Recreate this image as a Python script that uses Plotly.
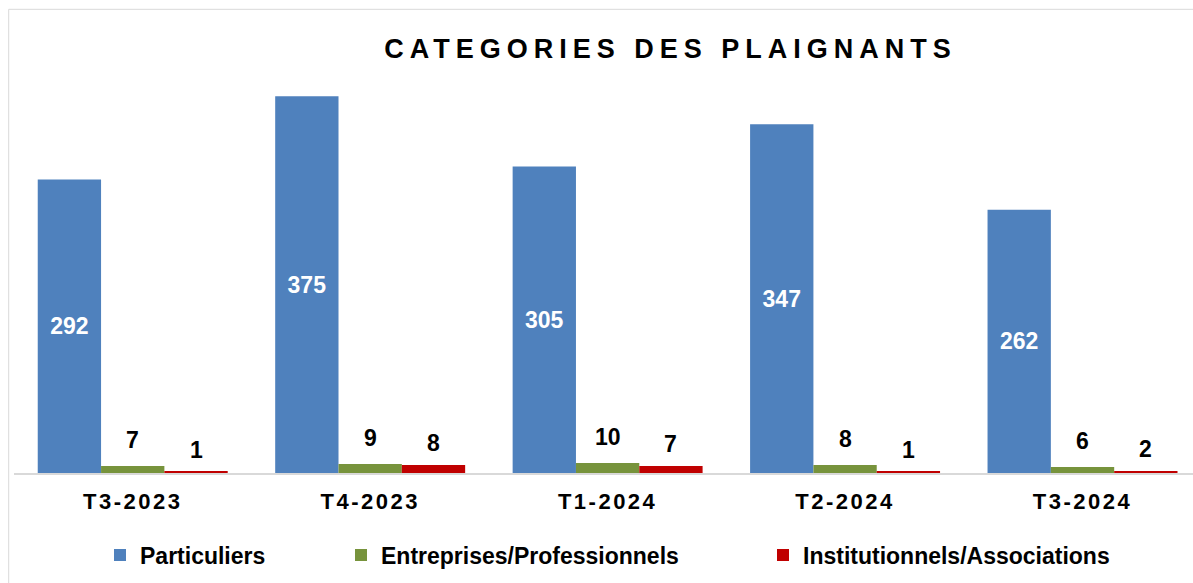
import plotly.graph_objects as go

categories = ["T3-2023", "T4-2023", "T1-2024", "T2-2024", "T3-2024"]
particuliers = [292, 375, 305, 347, 262]
entreprises = [7, 9, 10, 8, 6]
institutionnels = [1, 8, 7, 1, 2]
series_names = ["Particuliers", "Entreprises/Professionnels", "Institutionnels/Associations"]
title_text = "CATEGORIES DES PLAIGNANTS"

FONT = "Arial, Liberation Sans, sans-serif"
BLUE, GREEN, RED = "#4f81bd", "#77933c", "#c00000"

W, H = 1193, 583
ML, MT, MB = 14, 71, 110
plot_w = W - ML
cat_px = 237.45
bargap = 0.2
bar_w = (1 - bargap) / 3

def px_x(px):
    return (px - ML) / plot_w

plot_h = H - MT - MB
def px_y(py):
    return (H - MB - py) / plot_h

fig = go.Figure()
fig.add_trace(go.Bar(
    x=categories, y=particuliers, name=series_names[0], marker=dict(color=BLUE, line=dict(width=0)),
    text=particuliers, textposition="inside", insidetextanchor="middle", textangle=0,
    constraintext="none",
    textfont=dict(family=FONT, size=23, color="white", weight="bold"),
    legend="legend",
))
fig.add_trace(go.Bar(
    x=categories, y=entreprises, name=series_names[1], marker=dict(color=GREEN, line=dict(width=0)),
    legend="legend2",
))
fig.add_trace(go.Bar(
    x=categories, y=institutionnels, name=series_names[2], marker=dict(color=RED, line=dict(width=0)),
    legend="legend3",
))

annotations = []
for i, v in enumerate(entreprises):
    annotations.append(dict(x=i, y=v, xref="x", yref="y", text=f"<b>{v}</b>", showarrow=False,
                            yanchor="bottom", yshift=11,
                            font=dict(family=FONT, size=23, color="black")))
for i, v in enumerate(institutionnels):
    annotations.append(dict(x=i + bar_w, y=v, xref="x", yref="y", text=f"<b>{v}</b>", showarrow=False,
                            yanchor="bottom", yshift=7,
                            font=dict(family=FONT, size=23, color="black")))

ticktext = [f'<b><span style="letter-spacing:2.5px">{c}</span></b>' for c in categories]

legend_common = dict(orientation="h", yref="paper", y=px_y(555), yanchor="middle", xanchor="left",
                     font=dict(family=FONT, size=23, color="black", weight="bold"),
                     bgcolor="rgba(0,0,0,0)", borderwidth=0)

fig.update_layout(
    width=W, height=H,
    margin=dict(l=ML, r=0, t=MT, b=MB, pad=0),
    paper_bgcolor="white", plot_bgcolor="white",
    barmode="group", bargap=bargap, bargroupgap=0,
    title=dict(text=f'<b><span style="letter-spacing:6px">{title_text}</span></b>',
               x=670.5 / W, xref="container", xanchor="center",
               y=1 - 49 / H, yref="container", yanchor="middle",
               font=dict(family=FONT, size=27, color="black")),
    xaxis=dict(type="category", range=[-0.5, -0.5 + plot_w / cat_px],
               showline=True, linecolor="#d9d9d9", linewidth=2,
               showgrid=False, zeroline=False,
               ticks="outside", ticklen=8, tickcolor="rgba(0,0,0,0)",
               tickmode="array", tickvals=categories, ticktext=ticktext,
               tickfont=dict(family=FONT, size=22, color="black")),
    yaxis=dict(range=[0, 400], visible=False, showgrid=False, zeroline=False),
    showlegend=True,
    legend=dict(x=px_x(100), **legend_common),
    legend2=dict(x=px_x(341), **legend_common),
    legend3=dict(x=px_x(763), **legend_common),
    annotations=annotations,
    shapes=[dict(type="rect", xref="paper", yref="paper",
                 x0=px_x(8.7), x1=1.1, y0=-0.6, y1=px_y(9.3),
                 line=dict(color="#d9d9d9", width=1), layer="below")],
)

fig.write_html("out.html")
